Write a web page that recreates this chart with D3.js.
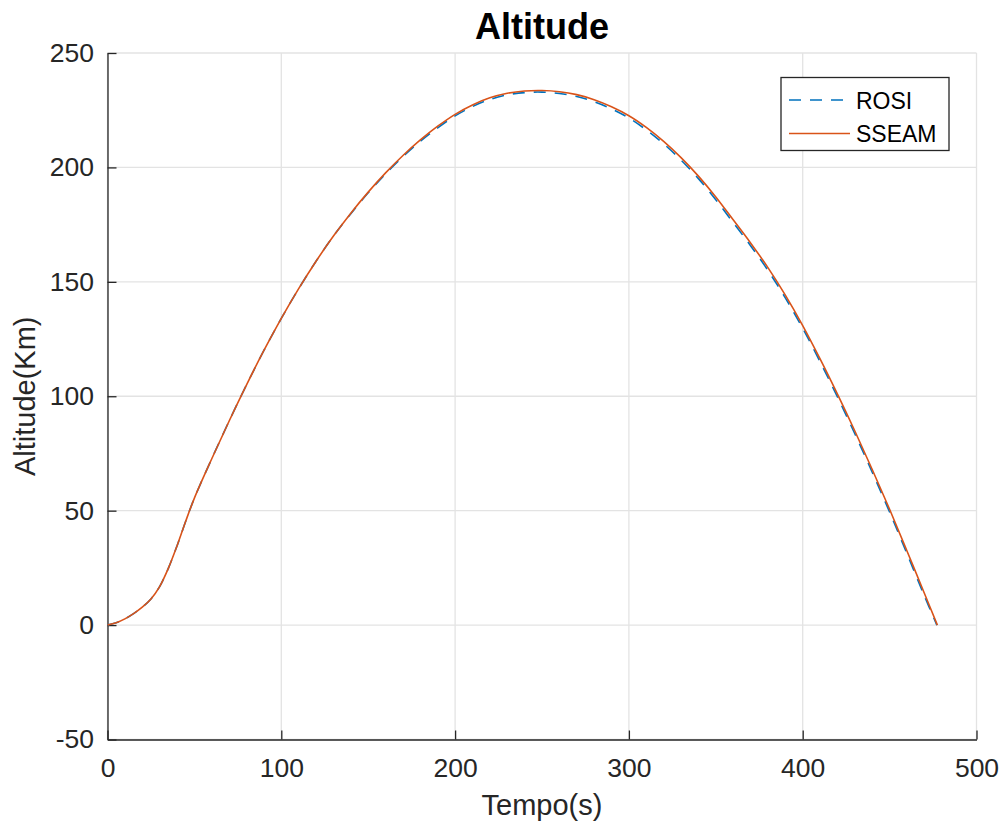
<!DOCTYPE html>
<html>
<head>
<meta charset="utf-8">
<script src="https://cdn.jsdelivr.net/npm/d3@7"></script>
<style>
  body { margin: 0; background: #fff; }
  svg { display: block; font-family: "Liberation Sans", Arial, sans-serif; }
</style>
</head>
<body>
<svg id="chart" width="1004" height="826"></svg>
<script>
const time = [0, 5, 10, 15, 20, 25, 30, 35, 40, 45, 50, 60, 70, 80, 90, 100, 110, 120, 130, 140, 150,
  160, 170, 180, 190, 200, 210, 220, 230, 240, 250, 260, 270, 280, 290, 300, 310, 320, 330, 340, 350,
  360, 370, 380, 390, 400, 410, 420, 430, 440, 450, 460, 470, 477.5];
const sseam = [0, 1, 2.7, 5, 7.8, 11.4, 16.8, 24.8, 34.6, 45.4, 55.5, 72.7, 89.2, 105, 120, 134, 147, 159, 170, 180, 189.2,
  197.6, 205.2, 212, 218, 223.2, 227.3, 230.4, 232.4, 233.4, 233.6, 233.1, 231.8, 229.6, 226.5, 222.6, 217.5, 211.4, 204.3, 196.2, 187.1,
  177.1, 167, 156.2, 144.2, 130.9, 116.3, 100.9, 84.8, 68, 50.6, 32.4, 13.9, 0];
const rosiTime = [0, 5, 10, 15, 20, 25, 30, 35, 40, 45, 50, 60, 70, 80, 90, 100, 110, 120, 130, 140, 150,
  160, 170, 180, 190, 200, 210, 220, 230, 240, 250, 260, 270, 280, 290, 300, 310, 320, 330, 340, 350,
  360, 370, 380, 390, 400, 410, 420, 430, 440, 450, 460, 470, 477.2];
const rosi = [0, 1, 2.7, 5, 7.8, 11.4, 16.8, 24.8, 34.6, 45.4, 55.5, 72.7, 89.2, 105, 120, 134, 147, 159, 170, 179.8, 188.9,
  197.2, 204.7, 211.4, 217.3, 222.5, 226.6, 229.7, 231.7, 232.7, 232.9, 232.3, 231.0, 228.7, 225.6, 221.6, 216.4, 210.3, 203.2, 195.1, 185.9,
  175.9, 165.8, 155.0, 143.0, 129.7, 115.1, 99.7, 83.6, 66.8, 49.4, 31.2, 12.8, 0];
const xTicks = [0, 100, 200, 300, 400, 500];
const yTicks = [-50, 0, 50, 100, 150, 200, 250];
const seriesNames = ["ROSI", "SSEAM"];

const svg = d3.select("#chart");
const L = 107.5, R = 976.5, T = 53, B = 739.5;
const x = d3.scaleLinear().domain([0, 500]).range([L, R]);
const y = d3.scaleLinear().domain([-50, 250]).range([B, T]);
const axisColor = "#262626";

// grid
const grid = svg.append("g");
grid.selectAll(".gx").data(xTicks).enter().append("line")
  .attr("x1", d => x(d)).attr("x2", d => x(d)).attr("y1", T).attr("y2", B)
  .attr("stroke", "#e3e3e3").attr("stroke-width", 1.3);
grid.selectAll(".gy").data(yTicks).enter().append("line")
  .attr("y1", d => y(d)).attr("y2", d => y(d)).attr("x1", L).attr("x2", R)
  .attr("stroke", "#e3e3e3").attr("stroke-width", 1.3);

// axes
const fmt = d => String(d);
const xAxis = d3.axisBottom(x).tickValues(xTicks).tickFormat(fmt).tickSizeInner(-9).tickSizeOuter(0).tickPadding(19);
const yAxis = d3.axisLeft(y).tickValues(yTicks).tickFormat(fmt).tickSizeInner(-9).tickSizeOuter(0).tickPadding(13.5);
const gx = svg.append("g").attr("transform", `translate(0,${B})`).call(xAxis);
const gy = svg.append("g").attr("transform", `translate(${L},0)`).call(yAxis);
[gx, gy].forEach(g => {
  g.select(".domain").attr("stroke", axisColor).attr("stroke-width", 1.3);
  g.selectAll(".tick line").attr("stroke", axisColor).attr("stroke-width", 1.3);
  g.selectAll(".tick text").attr("fill", axisColor).style("font-size", "26.5px")
    .style("font-family", "'Liberation Sans', Arial, sans-serif");
});

// lines
const rosiData = rosiTime.map((t, i) => [t, rosi[i]]);
const sseamData = time.map((t, i) => [t, sseam[i]]);
const line = d3.line().x(d => x(d[0])).y(d => y(d[1])).curve(d3.curveCatmullRom.alpha(0.5));
svg.append("path").datum(rosiData).attr("d", line).attr("fill", "none")
  .attr("stroke", "#0072BD").attr("stroke-width", 1.6).attr("stroke-dasharray", "12,9");
svg.append("path").datum(sseamData).attr("d", line).attr("fill", "none")
  .attr("stroke", "#D95319").attr("stroke-width", 1.6);

// title and labels
svg.append("text").attr("x", (L + R) / 2).attr("y", 39).attr("text-anchor", "middle")
  .style("font-size", "36px").style("font-weight", "bold").attr("fill", "#000").text("Altitude");
svg.append("text").attr("x", (L + R) / 2).attr("y", 815).attr("text-anchor", "middle")
  .style("font-size", "29px").attr("fill", axisColor).text("Tempo(s)");
svg.append("text").attr("transform", `translate(35,${(T + B) / 2}) rotate(-90)`).attr("text-anchor", "middle")
  .style("font-size", "29px").attr("fill", axisColor).text("Altitude(Km)");

// legend
const lg = svg.append("g");
lg.append("rect").attr("x", 781).attr("y", 77.5).attr("width", 168).attr("height", 73)
  .attr("fill", "#fff").attr("stroke", axisColor).attr("stroke-width", 1.3);
const colors = ["#0072BD", "#D95319"];
const dashes = ["12,9", null];
const ly = [100, 133.5];
seriesNames.forEach((name, i) => {
  lg.append("line").attr("x1", 789).attr("x2", 850).attr("y1", ly[i]).attr("y2", ly[i])
    .attr("stroke", colors[i]).attr("stroke-width", 1.6).attr("stroke-dasharray", dashes[i]);
  lg.append("text").attr("x", 856).attr("y", ly[i] + 8.5).style("font-size", "23px")
    .attr("fill", "#000").text(name);
});
</script>
</body>
</html>
